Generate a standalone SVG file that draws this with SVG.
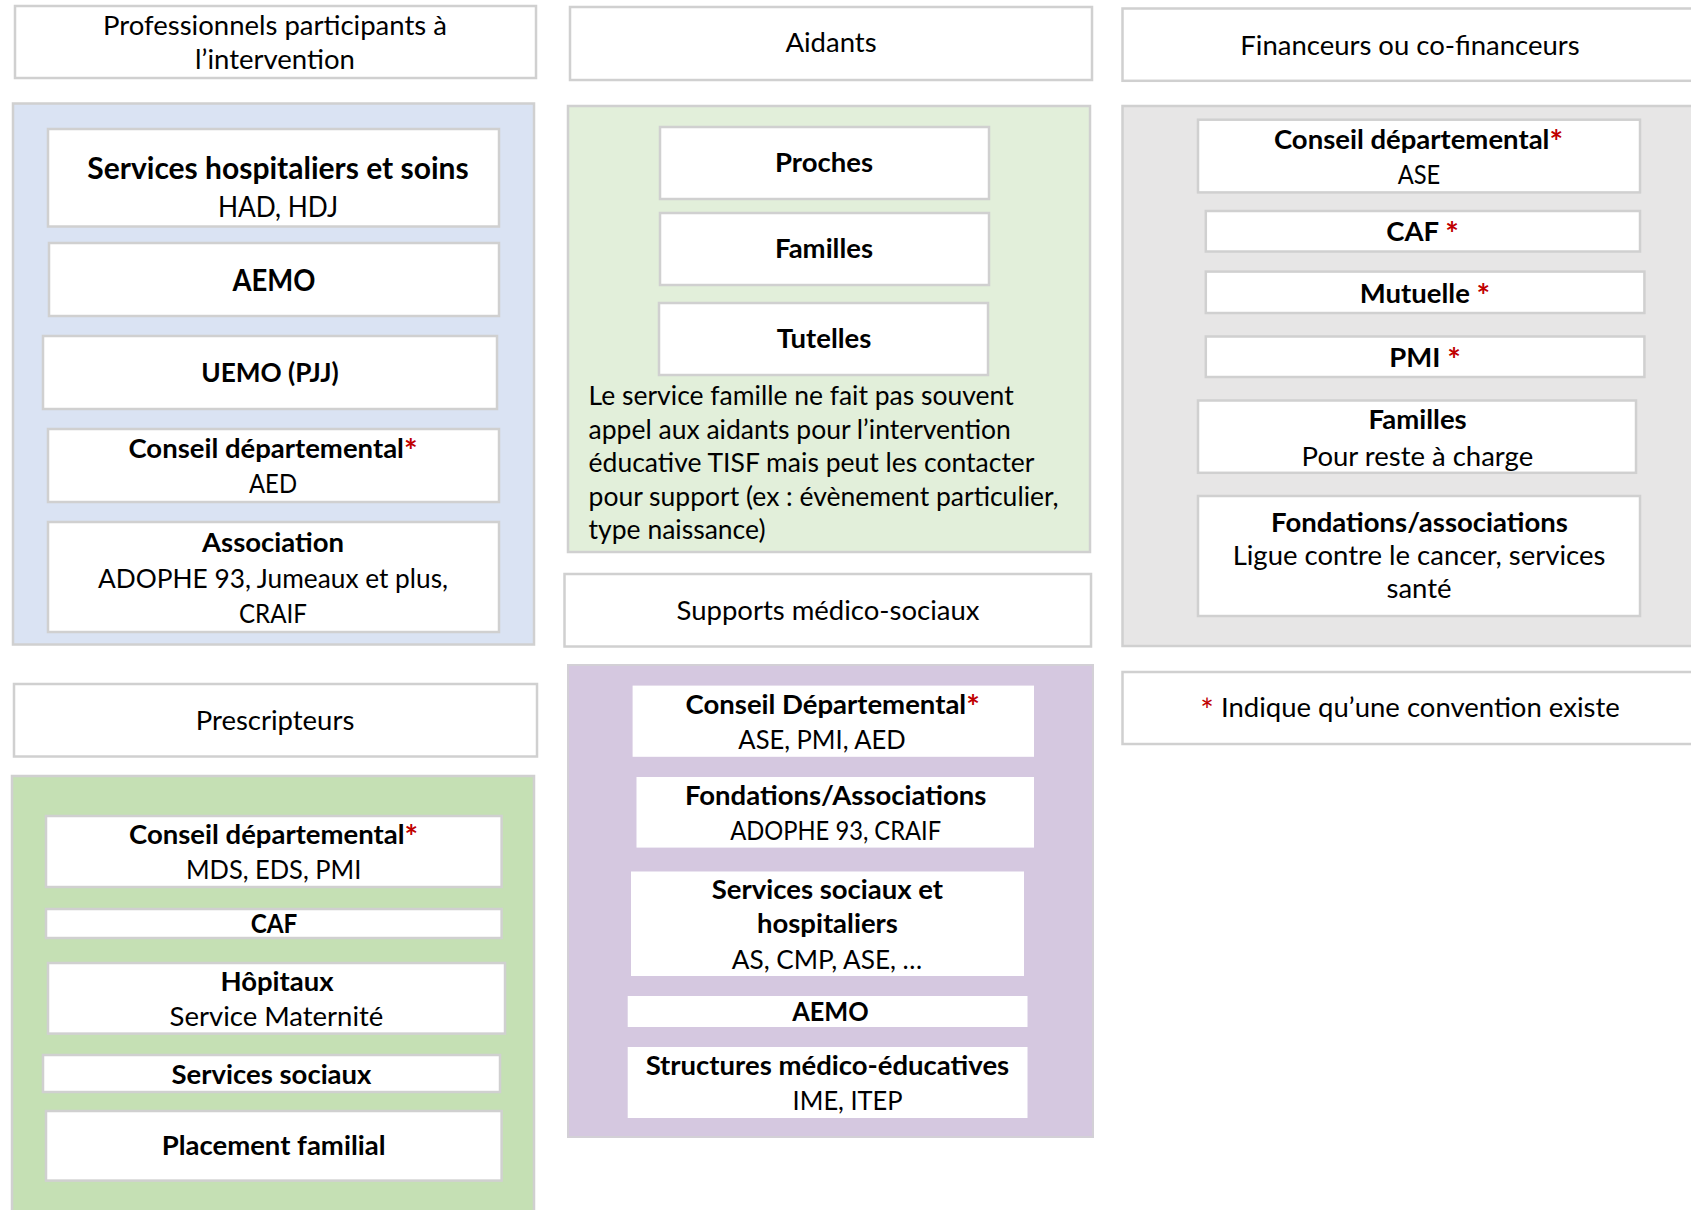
<svg xmlns="http://www.w3.org/2000/svg" width="1691" height="1210" viewBox="0 0 1691 1210">
  <style>
    text { font-family: Lato, "Open Sans", "Liberation Sans", sans-serif; fill: #000; text-anchor: middle; }
    .hd { font-size: 27.5px; }
    .b { font-size: 27.5px; font-weight: bold; }
    .r { font-size: 27.5px; }
    .big { font-size: 30px; font-weight: bold; }
    .para { font-size: 26.5px; text-anchor: start; }
    .ast { fill: #c00000; font-size: 32px; font-weight: bold; }
    .box { fill: #fff; stroke: #d0d0d0; stroke-width: 2.5; }
    .plain { fill: #fff; stroke: none; }
    .pn-blue { fill: #dae3f3; stroke: #d0d0d0; stroke-width: 2.5; }
    .pn-lgreen { fill: #e2efda; stroke: #d0d0d0; stroke-width: 2.5; }
    .pn-green { fill: #c5e0b4; stroke: #d0d0d0; stroke-width: 2.5; }
    .pn-purple { fill: #d5c8e0; stroke: #d3d0d6; stroke-width: 2; }
    .pn-gray { fill: #e7e6e6; stroke: #d0d0d0; stroke-width: 2.5; }
  </style>

  <rect width="1691" height="1210" fill="#fff"/>

  <!-- Column 1: professionals -->
  <g id="hdr-professionnels">
    <rect class="box" x="15" y="6" width="521" height="72"/>
    <text class="hd" x="275" y="34.6">Professionnels participants à</text>
    <text class="hd" x="275" y="68.6">l’intervention</text>
  </g>
  <g id="panel-professionnels">
    <rect class="pn-blue" x="13" y="103.5" width="521" height="541"/>
  </g>
  <g id="pro-services-hospitaliers">
    <rect class="box" x="48" y="129" width="451" height="97.5"/>
    <text class="big" x="278" y="178.6">Services hospitaliers et soins</text>
    <text class="r" x="278" y="217" style="font-size:29px" textLength="120" lengthAdjust="spacingAndGlyphs">HAD, HDJ</text>
  </g>
  <g id="pro-aemo">
    <rect class="box" x="49" y="243" width="450" height="73"/>
    <text class="big" x="274" y="291" textLength="83" lengthAdjust="spacingAndGlyphs">AEMO</text>
  </g>
  <g id="pro-uemo">
    <rect class="box" x="43" y="336" width="454" height="73"/>
    <text class="b" x="270" y="382" textLength="137.5" lengthAdjust="spacingAndGlyphs">UEMO (PJJ)</text>
  </g>
  <g id="pro-conseil">
    <rect class="box" x="48" y="429" width="451" height="73"/>
    <text class="b" x="273" y="458">Conseil départemental<tspan class="ast" dy="5">*</tspan></text>
    <text class="r" x="273" y="493" textLength="48" lengthAdjust="spacingAndGlyphs">AED</text>
  </g>
  <g id="pro-association">
    <rect class="box" x="48" y="522" width="451" height="110"/>
    <text class="b" x="273" y="552">Association</text>
    <text class="r" x="273" y="588" textLength="350" lengthAdjust="spacingAndGlyphs">ADOPHE 93, Jumeaux et plus,</text>
    <text class="r" x="273" y="623" textLength="68" lengthAdjust="spacingAndGlyphs">CRAIF</text>
  </g>

  <!-- Column 1: prescribers -->
  <g id="hdr-prescripteurs">
    <rect class="box" x="14" y="684" width="523" height="72.5"/>
    <text class="hd" x="275" y="730">Prescripteurs</text>
  </g>
  <g id="panel-prescripteurs">
    <rect class="pn-green" x="12" y="776" width="522" height="460"/>
  </g>
  <g id="presc-conseil">
    <rect class="box" x="46" y="816" width="455.6" height="71"/>
    <text class="b" x="273.6" y="844">Conseil départemental<tspan class="ast" dy="5">*</tspan></text>
    <text class="r" x="273.6" y="879" textLength="175.4" lengthAdjust="spacingAndGlyphs">MDS, EDS, PMI</text>
  </g>
  <g id="presc-caf">
    <rect class="box" x="46" y="909" width="455.6" height="29"/>
    <text class="b" x="274" y="933" textLength="46.6" lengthAdjust="spacingAndGlyphs">CAF</text>
  </g>
  <g id="presc-hopitaux">
    <rect class="box" x="48" y="963" width="457" height="70.6"/>
    <text class="b" x="277" y="991">Hôpitaux</text>
    <text class="r" x="276.5" y="1025.5">Service Maternité</text>
  </g>
  <g id="presc-services-sociaux">
    <rect class="box" x="43" y="1055" width="457" height="37"/>
    <text class="b" x="271.5" y="1084">Services sociaux</text>
  </g>
  <g id="presc-placement">
    <rect class="box" x="46" y="1111" width="455.6" height="69.6"/>
    <text class="b" x="273.6" y="1155">Placement familial</text>
  </g>

  <!-- Column 2: carers -->
  <g id="hdr-aidants">
    <rect class="box" x="570" y="7" width="522" height="73"/>
    <text class="hd" x="831" y="52">Aidants</text>
  </g>
  <g id="panel-aidants">
    <rect class="pn-lgreen" x="568" y="106" width="522" height="446"/>
  </g>
  <g id="aid-proches">
    <rect class="box" x="660" y="127" width="329" height="72"/>
    <text class="b" x="824" y="172">Proches</text>
  </g>
  <g id="aid-familles">
    <rect class="box" x="660" y="213" width="329" height="72"/>
    <text class="b" x="824" y="258">Familles</text>
  </g>
  <g id="aid-tutelles">
    <rect class="box" x="659" y="303" width="329" height="72"/>
    <text class="b" x="824" y="348">Tutelles</text>
  </g>
  <g id="aid-note">
    <text class="para" x="588.6" y="405">Le service famille ne fait pas souvent</text>
    <text class="para" x="588.6" y="438.5">appel aux aidants pour l’intervention</text>
    <text class="para" x="588.6" y="472">éducative TISF mais peut les contacter</text>
    <text class="para" x="588.6" y="505.5">pour support (ex : évènement particulier,</text>
    <text class="para" x="588.6" y="539">type naissance)</text>
  </g>

  <!-- Column 2: medico-social support -->
  <g id="hdr-supports">
    <rect class="box" x="564.5" y="574" width="526.5" height="72.5"/>
    <text class="hd" x="828" y="620">Supports médico-sociaux</text>
  </g>
  <g id="panel-supports">
    <rect class="pn-purple" x="568" y="665" width="525" height="472"/>
  </g>
  <g id="sup-conseil">
    <rect class="plain" x="632.6" y="685.6" width="401.4" height="71.2"/>
    <text class="b" x="832.7" y="713.7">Conseil Départemental<tspan class="ast" dy="5">*</tspan></text>
    <text class="r" x="822" y="748.7" textLength="167.3" lengthAdjust="spacingAndGlyphs">ASE, PMI, AED</text>
  </g>
  <g id="sup-fondations">
    <rect class="plain" x="636.5" y="777" width="397.5" height="70.6"/>
    <text class="b" x="835.7" y="805">Fondations/Associations</text>
    <text class="r" x="835.7" y="840" textLength="211" lengthAdjust="spacingAndGlyphs">ADOPHE 93, CRAIF</text>
  </g>
  <g id="sup-services">
    <rect class="plain" x="631" y="871.5" width="393" height="104.5"/>
    <text class="b" x="827.4" y="899">Services sociaux et</text>
    <text class="b" x="827.4" y="933">hospitaliers</text>
    <text class="r" x="827" y="968.6" textLength="190.5" lengthAdjust="spacingAndGlyphs">AS, CMP, ASE, …</text>
  </g>
  <g id="sup-aemo">
    <rect class="plain" x="627.7" y="996" width="399.8" height="31"/>
    <text class="b" x="830.4" y="1021" textLength="76.5" lengthAdjust="spacingAndGlyphs">AEMO</text>
  </g>
  <g id="sup-structures">
    <rect class="plain" x="627.7" y="1047" width="399.8" height="71"/>
    <text class="b" x="827.4" y="1075">Structures médico-éducatives</text>
    <text class="r" x="847.6" y="1110" textLength="110" lengthAdjust="spacingAndGlyphs">IME, ITEP</text>
  </g>

  <!-- Column 3: funders -->
  <g id="hdr-financeurs">
    <rect class="box" x="1122.5" y="8.5" width="600" height="72.3"/>
    <text class="hd" x="1410" y="54.7">Financeurs ou co-financeurs</text>
  </g>
  <g id="panel-financeurs">
    <rect class="pn-gray" x="1122.5" y="106" width="600" height="540"/>
  </g>
  <g id="fin-conseil">
    <rect class="box" x="1198" y="119.7" width="442" height="72.7"/>
    <text class="b" x="1418.5" y="149">Conseil départemental<tspan class="ast" dy="5">*</tspan></text>
    <text class="r" x="1419" y="184" textLength="42.6" lengthAdjust="spacingAndGlyphs">ASE</text>
  </g>
  <g id="fin-caf">
    <rect class="box" x="1205.8" y="211" width="434.2" height="40.5"/>
    <text class="b" x="1422.5" y="241">CAF <tspan class="ast" dy="5">*</tspan></text>
  </g>
  <g id="fin-mutuelle">
    <rect class="box" x="1205.8" y="271.6" width="438.6" height="41.4"/>
    <text class="b" x="1425" y="303.4">Mutuelle <tspan class="ast" dy="5">*</tspan></text>
  </g>
  <g id="fin-pmi">
    <rect class="box" x="1205.8" y="336.5" width="438.6" height="40.5"/>
    <text class="b" x="1425" y="366.8">PMI <tspan class="ast" dy="5">*</tspan></text>
  </g>
  <g id="fin-familles">
    <rect class="box" x="1198" y="400.5" width="438" height="72.3"/>
    <text class="b" x="1417.6" y="429">Familles</text>
    <text class="r" x="1417.4" y="465.5">Pour reste à charge</text>
  </g>
  <g id="fin-fondations">
    <rect class="box" x="1198" y="496" width="442" height="120"/>
    <text class="b" x="1419.5" y="531.5">Fondations/associations</text>
    <text class="r" x="1419" y="565.4">Ligue contre le cancer, services</text>
    <text class="r" x="1419" y="598">santé</text>
  </g>
  <g id="legend">
    <rect class="box" x="1122.5" y="672" width="600" height="72"/>
    <text class="hd" x="1410" y="717"><tspan class="ast" dy="5" style="font-weight:normal">*</tspan><tspan dy="-5"> Indique qu’une convention existe</tspan></text>
  </g>

  <!-- no connectors in this chart -->
  <g id="connectors"/>
</svg>
